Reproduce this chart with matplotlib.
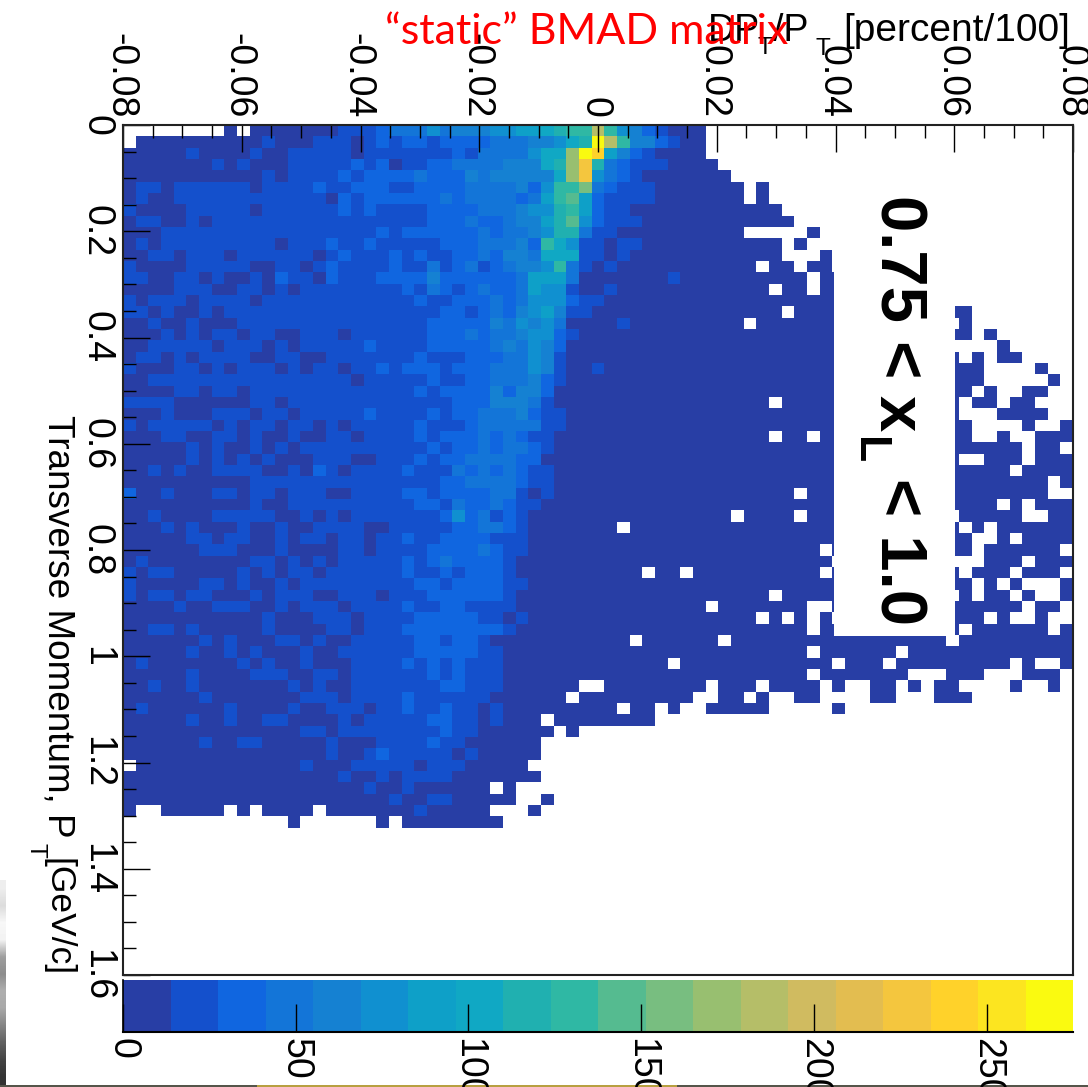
import matplotlib
matplotlib.use("Agg")
import matplotlib.pyplot as plt
import numpy as np
from matplotlib.colors import BoundaryNorm, ListedColormap
from matplotlib.patches import Rectangle
from matplotlib.ticker import MultipleLocator
from matplotlib.transforms import ScaledTranslation

plt.rcParams["font.family"] = ["Liberation Sans", "DejaVu Sans"]

W, H = 1088, 1087

# colour levels of the z axis, lowest first
LEVEL_COLORS = ["#283ea5", "#1450cc", "#1066e0", "#1375d8", "#1581d2",
                "#1090d0", "#0ea0c8", "#10a8c4", "#20b0b0", "#2fb8a4",
                "#55bb90", "#78be80", "#98bf70", "#b5be68", "#d0bb60",
                "#e3bd50", "#f4c63e", "#ffd22a", "#fce520", "#fafa10"]
Z_MAX = 275
Z_TICKS = [0, 50, 100, 150, 200, 250]
X_TICKS = [-0.08, -0.06, -0.04, -0.02, 0, 0.02, 0.04, 0.06, 0.08]
X_LABELS = ["-0.08", "-0.06", "-0.04", "-0.02", "0", "0.02", "0.04", "0.06", "0.08"]
Y_TICKS = [0, 0.2, 0.4, 0.6, 0.8, 1, 1.2, 1.4, 1.6]
Y_LABELS = ["0", "0.2", "0.4", "0.6", "0.8", "1", "1.2", "1.4", "1.6"]

# grey of the slide photo showing down the left edge, top to bottom
EDGE_GREYS = [0.93, 0.86, 0.97, 0.95, 0.62, 0.55, 0.68, 0.66, 0.52, 0.38, 0.27, 0.2]

# histogram bins: one string per P_T row, one code per DP_T/P_T column,
# code = colour level (base 20), '.' = empty bin. Groups are only for reading.
# columns 0-44
LEFT = [
    "........0. 0000000111 2333534445 5667899d95 42100",
    ".000000000 0100011101 2122122223 3344578jd9 44210",
    "0000010000 1001111101 1111112133 33577cjh64 21000",
    "0000000101 0001111121 2011223333 44478cg832 11100",
    "0000000000 0101111212 2223222434 44447cg532 10000",
    "0110111111 0111121122 2112222333 342599b321 11000",
    "0100111111 1111110212 2222232333 32369a6211 11000",
    "1000011111 0111111212 1111222233 3455896211 00000",
    "0110010111 1111111111 1111222322 34468a5211 10000",
    "0001111111 1111111111 2122222232 3345883110 00000",
    "0101111111 1101112112 1111122233 3429751101 10000",
    "0011011101 1111101211 1212112232 4437771101 00000",
    "1000011111 0011012111 1211312312 3445931010 00000",
    "1100110100 1021102111 2222422222 2366630000 00010",
    "0000111001 1010111111 1121321232 2365510010 00000",
    "1011101111 0111111111 1112112223 2355521100 00000",
    "1101001011 1111111111 1111122123 2456411000 00000",
    "0010010001 1111111111 1111222224 3545300001 00000",
    "0001010110 1100111011 1111222323 3455210000 00000",
    "0011111011 1010111112 1111222223 4354200000 00000",
    "0110101111 0011001111 1112111222 3354100000 00000",
    "1000110101 1101011011 2122212223 3354100100 00000",
    "0011111111 1111111101 1111211223 3342100000 00000",
    "0000110110 1111111111 1112122224 2442000000 00000",
    "1111000000 1101111111 1111112224 4431000000 00000",
    "0001000111 0110111112 1111212233 3421100000 00000",
    "1011111010 1101101011 1112111233 3331100000 00000",
    "0001100110 1001001101 1112122232 3211000000 00000",
    "0000010100 1010111111 1111212232 3321000000 00000",
    "0000010101 0100011100 1112122333 3220000000 00000",
    "0010100111 1001021011 1121113232 3211000000 00000",
    "0000000000 1111111111 1111122333 3211000000 00000",
    "2001000110 1101110011 1122122223 3101000000 00000",
    "0000000000 1001111111 1112213223 2110000000 00000",
    "0010000111 1100101011 1111125231 2100000000 00000",
    "0001010001 0010011110 0111112233 210000000. 00000",
    "0000011011 0010110110 1121122221 1100000000 00000",
    "0000001110 0010000110 1111222232 1100000000 00000",
    "0100000000 1101010111 1121232222 1000000000 00000",
    "1011000001 0101101111 1121121222 1000000000 0.00.",
    "1000001101 0010111111 1112212222 1100000000 00000",
    "1011011000 1011100111 0111222222 1000000000 00000",
    "0000100111 0010111011 1121122111 1000000000 00000",
    "0000000000 0100011101 1112222211 0100000000 00000",
    "0011010000 0100001101 1122222222 1000000000 00000",
    "0000001010 0011010011 1112212210 0000000000 .0000",
    "0000010010 1000100111 1112222211 0000000000 00000",
    "0100000001 0100100011 1121212111 0000000000 000.0",
    "0000010000 1110011011 1111212111 0000000000 00000",
    "0010010000 0001010011 1111122111 000000..00 00000",
    "0000001000 0000111011 1121111110 00000.0000 00000",
    "0100000010 0001001110 1121121101 000000000. 00.0.",
    "0000010010 0110000101 1111221101 000.000000 00...",
    "0000000000 0000110111 1111121100 0000.0.... .....",
    "0000001001 1000001000 1111211000 000....... .....",
    "0000000000 0000001001 2111110100 000....... .....",
    ".000000000 0000100011 1110111000 00........ .....",
    "0000000000 0000000100 1011110000 000....... .....",
    "0000000000 0000000001 001000000. 0......... .....",
    "0000000000 0000000000 0100110000 0..0...... .....",
    "0..00000.0 .0000.0000 000100000. ..0....... .....",
    ".......... ...0...... 0.00000000 .......... .....",
]
# columns 45-74 (level 0 or empty only)
RIGHT = [
    "0........... ........ ..........",
    "0........... ........ ..........",
    "0........... ........ ..........",
    "00.......... ........ ..........",
    "000......... ........ ..........",
    "0000.0...... ........ ..........",
    "0000.0...... ........ ..........",
    "0000000..... ........ ..........",
    "00000000.... ........ ..........",
    "0000.....0.. ........ ..........",
    "0000000.0... ........ ..........",
    "0000000...0. ........ ..........",
    "00000.00.00. ........ ..........",
    "000000000.00 ........ ..........",
    "000000.00.00 ........ ..........",
    "000000000000 ........ ..........",
    "0000000.0000 00000000 00........",
    "0000.0000000 00000000 .0........",
    "000000000000 00000000 00.0......",
    "000000000000 00000000 ....0.....",
    "000000000000 00000000 0.0.00....",
    "000000000000 00000000 000....0..",
    "000000000000 00000000 000.....0.",
    "000000000000 00000000 00.0..00..",
    "000000.00000 00000000 0.00.00...",
    "000000000000 00000000 0...0000..",
    "000000000000 00000000 00....0..0",
    "000000.00.00 00000000 00..0..000",
    "000000000000 00000000 000000.00.",
    "000000000000 00000000 0..000.000",
    "000000000000 00000000 00000.0000",
    "000000000000 00000000 00000000.0",
    "00000000.000 00000000 00000000..",
    "000000000000 00000000 0000.0.000",
    "000.0000.000 00000000 .00000..00",
    "000000000000 00000000 0.0.000000",
    "000000000000 00000000 00..0.0000",
    "0000000000.0 00000000 00.000000.",
    "00000000000. 00000000 ...000.000",
    "0000000000.0 00000000 0.000.000.",
    "000000000000 00000000 00.0.0...0",
    "000000.00000 00000000 .0.00.0..0",
    "0.0000000..0 00000000 000000.00.",
    "00000.0.0.0. 00000000 000.0..0..",
    "000000000.00 00000000 0.000000.0",
    "00.000000000 00000000 .000000000",
    "000000000.00 0000.000 0000000000",
    "00000000000. 000.0000 00000.0..0",
    "000000000.00 00000... 000...000.",
    "0.000.0000.0 ..00.0.0 0....0..0.",
    "..00.0..00.. ..00...0 00........",
    ".00000.....0 ........ ..........",
]
N_BINS = 75


def level_grid():
    grid = np.full((N_BINS, N_BINS), np.nan)
    for r, text in enumerate(LEFT):
        right = RIGHT[r] if r < len(RIGHT) else ""
        codes = (text + right).replace(" ", "")
        for c, code in enumerate(codes[:N_BINS]):
            if code != ".":
                grid[r, c] = int(code, 20)
    return grid


def px_axes(fig, left, top, right, bottom):
    return fig.add_axes([left / W, 1 - bottom / H, (right - left) / W, (bottom - top) / H])


fig = plt.figure(figsize=(W / 100, H / 100), dpi=100, facecolor="white")

# bits of the slide background that show around the pasted plot
bg = fig.add_axes([0, 0, 1, 1], zorder=-1)
bg.imshow(np.array(EDGE_GREYS).reshape(-1, 1), cmap="gray", vmin=0, vmax=1, aspect="auto",
          extent=(0, 5.5, 1085, 880), interpolation="bilinear")
bg.set_xlim(0, W)
bg.set_ylim(H, 0)
bg.axis("off")
bg.add_patch(Rectangle((0, 1085.4), W, 1.6, color="#55554a", lw=0))
bg.add_patch(Rectangle((257, 1085.4), 420, 1.6, color="#b8a040", lw=0))

cmap = ListedColormap(LEVEL_COLORS)
cmap.set_bad((1, 1, 1, 0))
step = Z_MAX / len(LEVEL_COLORS)
norm = BoundaryNorm(np.arange(len(LEVEL_COLORS) + 1) * step, cmap.N)

ax = px_axes(fig, 123, 125, 1073, 975)
x_edges = np.linspace(-0.08, 0.08, N_BINS + 1)
y_edges = np.linspace(0, 1.6, N_BINS + 1)
z = (level_grid() + 0.5) * step
ax.pcolormesh(x_edges, y_edges, np.ma.masked_invalid(z), cmap=cmap, norm=norm, linewidth=0)
ax.set_xlim(-0.08, 0.08)
ax.set_ylim(1.6, 0)

ax.set_xticks(X_TICKS, X_LABELS)
ax.set_yticks(Y_TICKS, Y_LABELS)
ax.xaxis.set_minor_locator(MultipleLocator(0.005))
ax.yaxis.set_minor_locator(MultipleLocator(0.05))
ax.tick_params(which="major", direction="in", length=19.5, width=1.0, color="black",
               top=True, bottom=False, left=True, right=False,
               labeltop=True, labelbottom=False, labelsize=27)
ax.tick_params(which="minor", direction="in", length=9.5, width=1.0, color="black",
               top=True, bottom=False, left=True, right=False)
ax.tick_params(axis="x", which="major", pad=5, labelrotation=-90)
ax.tick_params(axis="y", which="major", pad=6, labelrotation=-90)
for label in ax.get_yticklabels():
    label.set_verticalalignment("center")
# the pasted labels sit a little left of their ticks
nudge = ScaledTranslation(-3 / 100, 0, fig.dpi_scale_trans)
for label in ax.get_xticklabels():
    label.set_transform(label.get_transform() + nudge)
for spine in ax.spines.values():
    spine.set_linewidth(1.5)
    spine.set_color("#222222")

# white label box sits on top of the histogram, below the top ticks
label_box = Rectangle((834 / W, 1 - 636 / H), (955 - 834) / W, (636 - 160) / H,
                      transform=fig.transFigure, facecolor="white", edgecolor="none", zorder=3)
fig.add_artist(label_box)

# colour scale
cax = px_axes(fig, 123, 980, 1073, 1032)
scale_edges = np.arange(len(LEVEL_COLORS) + 1) * step
cax.pcolormesh(scale_edges, [0, 1], (scale_edges[:-1] + step / 2).reshape(1, -1),
               cmap=cmap, norm=norm, linewidth=0)
cax.set_xlim(0, Z_MAX)
cax.set_ylim(0, 1)
cax.set_yticks([])
cax.set_xticks(Z_TICKS, [str(v) for v in Z_TICKS])
cax.tick_params(axis="x", direction="in", length=20, width=1.0, labelsize=27,
                labelrotation=-90, pad=4)
cax.spines["top"].set_visible(False)
cax.spines["right"].set_visible(False)
cax.spines["left"].set_linewidth(1.2)
cax.spines["bottom"].set_linewidth(1.5)


def put(x, y, text, size, **kw):
    fig.text(x / W, 1 - y / H, text, fontsize=size, rotation_mode="anchor", zorder=5, **kw)


# axis titles, x one lies flat, y one is turned with the plot
put(708, 41, "DP", 27, ha="left", va="baseline")
put(757, 54, "T", 17.5, ha="left", va="baseline")
put(773, 41, "/P", 27, ha="left", va="baseline")
put(816, 55, "T", 17.5, ha="left", va="baseline")
put(843, 41, "[percent/100]", 28, ha="left", va="baseline")
put(385, 44, "\u201cstatic\u201d BMAD matrix", 31, color="#ff0000", family="Lato", ha="left", va="baseline")

put(48, 415, "Transverse Momentum, P", 26.6, rotation=-90, ha="left", va="baseline")
put(30, 843, "T", 17.5, rotation=-90, ha="left", va="baseline")
put(48, 858, "[GeV/c]", 25.5, rotation=-90, ha="left", va="baseline")

# bold range label in the box
put(880, 195, "0.75 <", 47, fontweight="bold", rotation=-90, ha="left", va="baseline")
put(880, 395, "x", 47, fontweight="bold", rotation=-90, ha="left", va="baseline")
put(857, 437, "L", 32, fontweight="bold", rotation=-90, ha="left", va="baseline")
put(880, 478, "< 1.0", 47, fontweight="bold", rotation=-90, ha="left", va="baseline")

fig.savefig("out.png", dpi=100, facecolor="white")
